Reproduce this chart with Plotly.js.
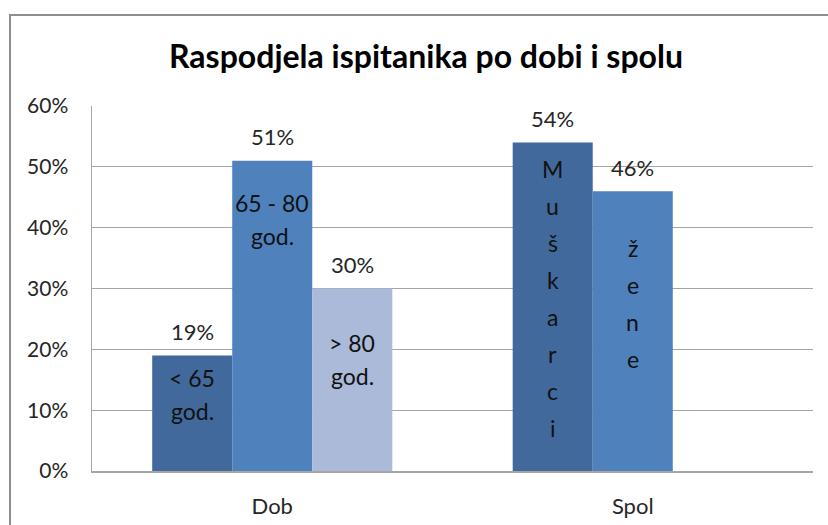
<!DOCTYPE html>
<html><head><meta charset="utf-8">
<script src="https://cdn.plot.ly/plotly-3.0.1.min.js"></script>
<style>
html,body{margin:0;padding:0;background:#fff;overflow:hidden}
#chart{position:absolute;left:0;top:0;width:828px;height:525px}
#frame{position:absolute;left:9px;top:14px;width:900px;height:600px;border-left:2px solid #8e8e8e;border-top:2px solid #8e8e8e;pointer-events:none;z-index:5}
</style></head><body>
<div id="chart"></div><div id="frame"></div>
<script>
// ---- data ----
const categories = ['Dob', 'Spol'];
const seriesA = [19, 54];
const seriesB = [51, 46];
const seriesC = [30, null];
const labelsA = ['< 65\ngod.', 'Muškarci'];
const labelsB = ['65 - 80\ngod.', 'žene'];
const labelsC = ['> 80\ngod.', ''];
const tickVals = [0, 10, 20, 30, 40, 50, 60];
const tickText = ['0%', '10%', '20%', '30%', '40%', '50%', '60%'];
const titleText = 'Raspodjela ispitanika po dobi i spolu';

// ---- style / layout constants ----
const colors = ['#41699b', '#4f81bd', '#aabad8'];
const FONT = 'Lato, "Open Sans", sans-serif';
const TXT = '#262626';
const BARGAP = 0.334;
const slot = (1 - BARGAP) / 3;
// per category: vertical letters?, line gap (px), first-line offset below bar top per series (px)
const labelStyle = [
  {vertical: false, gap: 33, offsets: [23, 42, 54]},
  {vertical: true, gap: 37, offsets: [26, 57, 0]}
];

const series = [seriesA, seriesB, seriesC];
const labels = [labelsA, labelsB, labelsC];

const traces = series.map((vals, i) => ({
  type: 'bar', x: categories, y: vals,
  marker: {color: colors[i], line: {width: 0}},
  hoverinfo: 'skip', showlegend: false
}));

const annotations = [];
series.forEach((vals, i) => {
  vals.forEach((v, j) => {
    if (v === null || v === undefined) return;
    const xpos = j + (i - 1) * slot;
    annotations.push({
      x: xpos, y: v, xref: 'x', yref: 'y', text: v + '%', showarrow: false,
      yanchor: 'middle', xanchor: 'center', yshift: 24,
      font: {family: FONT, size: 22, color: TXT}
    });
    const st = labelStyle[j];
    const lab = labels[i][j];
    if (!lab) return;
    const lines = st.vertical ? Array.from(lab) : lab.split('\n');
    lines.forEach((ln, k) => {
      annotations.push({
        x: xpos, y: v, xref: 'x', yref: 'y', text: ln.replace(/</g, '&lt;').replace(/>/g, '&gt;'),
        showarrow: false, yanchor: 'middle', xanchor: 'center',
        yshift: -(st.offsets[i] + k * st.gap),
        font: {family: FONT, size: 23, color: '#111'}
      });
    });
  });
});

const layout = {
  width: 828, height: 525,
  margin: {l: 92, r: 15, t: 106, b: 54, pad: 0},
  paper_bgcolor: '#ffffff', plot_bgcolor: '#ffffff',
  barmode: 'group', bargap: BARGAP, bargroupgap: 0,
  title: {text: titleText, x: 426 / 828, xref: 'container', xanchor: 'center',
          y: 1 - 57 / 525, yref: 'container', yanchor: 'middle',
          font: {family: FONT, size: 32, color: '#000', weight: 'bold'}},
  xaxis: {type: 'category', showgrid: false, showline: true, linecolor: '#a6a6a6', linewidth: 1.5,
          ticks: '', ticklabelstandoff: 15, tickfont: {family: FONT, size: 22, color: TXT},
          zeroline: false, fixedrange: true},
  yaxis: {range: [0, 60], tickvals: tickVals, ticktext: tickText, showgrid: true, gridcolor: '#a6a6a6',
          gridwidth: 1.3, showline: true, linecolor: '#a6a6a6', linewidth: 1.5, ticks: '',
          ticklabelstandoff: 18, tickfont: {family: FONT, size: 21, color: TXT},
          zeroline: false, fixedrange: true},
  annotations: annotations
};

Plotly.newPlot('chart', traces, layout, {displayModeBar: false, staticPlot: true});
</script>
</body></html>
